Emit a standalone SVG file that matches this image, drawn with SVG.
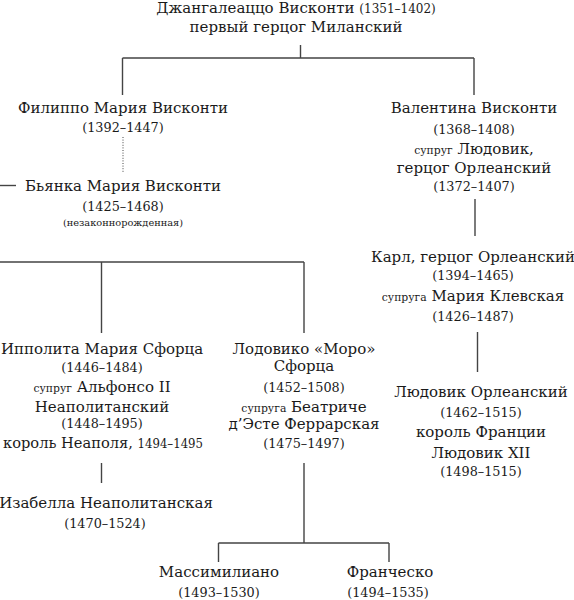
<svg xmlns="http://www.w3.org/2000/svg" width="574" height="600" viewBox="0 0 574 600">
<style>
text{font-family:"DejaVu Serif","Liberation Serif",serif;fill:#1a1a1a;text-anchor:middle}
.n{font-size:15px}
.y{font-size:12.8px}
.yi{font-size:12px}
.s{font-size:10.8px}
.u{font-size:9.8px}
.c path{stroke:#444;stroke-width:1.4;fill:none}
</style>
<rect width="574" height="600" fill="#fff"/>
<g class="c" id="connectors">
<path d="M300.5,45V58M122.5,58H474M122.5,58V95M474,58V95"/>
<path d="M123,137V173" stroke-dasharray="1,1.6" style="stroke-width:1"/>
<path d="M0,185.5H16"/>
<path d="M0,262H304M101.5,262V333M304,262V333"/>
<path d="M475,199V236"/>
<path d="M477.5,332V372"/>
<path d="M101.5,463V483"/>
<path d="M304,463V543M218.5,543H389M218.5,543V562M389,543V562"/>
</g>
<g id="root">
<text x="296" y="13" class="n">Джангалеаццо Висконти <tspan class="yi">(1351–1402)</tspan></text>
<text x="296" y="32" class="n">первый герцог Миланский</text>
</g>
<g id="filippo">
<text x="123" y="113" class="n">Филиппо Мария Висконти</text>
<text x="123" y="132" class="y">(1392–1447)</text>
</g>
<g id="bianca">
<text x="123" y="191" class="n">Бьянка Мария Висконти</text>
<text x="123" y="211" class="y">(1425–1468)</text>
<text x="123" y="226" class="u">(незаконнорожденная)</text>
</g>
<g id="valentina">
<text x="474" y="113" class="n">Валентина Висконти</text>
<text x="474" y="134" class="y">(1368–1408)</text>
<text x="474" y="154" class="n"><tspan class="s">супруг</tspan> Людовик,</text>
<text x="474" y="173" class="n">герцог Орлеанский</text>
<text x="474" y="191" class="y">(1372–1407)</text>
</g>
<g id="karl">
<text x="473" y="262" class="n">Карл, герцог Орлеанский</text>
<text x="473" y="280" class="y">(1394–1465)</text>
<text x="473" y="301" class="n"><tspan class="s">супруга</tspan> Мария Клевская</text>
<text x="473" y="321" class="y">(1426–1487)</text>
</g>
<g id="ippolita">
<text x="102" y="354" class="n">Ипполита Мария Сфорца</text>
<text x="102" y="372" class="y">(1446–1484)</text>
<text x="102" y="392" class="n"><tspan class="s">супруг</tspan> Альфонсо II</text>
<text x="102" y="412" class="n">Неаполитанский</text>
<text x="102" y="428" class="y">(1448–1495)</text>
<text x="103" y="448" class="n" textLength="200" lengthAdjust="spacingAndGlyphs">король Неаполя, <tspan class="yi">1494–1495</tspan></text>
</g>
<g id="lodovico">
<text x="304" y="354" class="n">Лодовико «Моро»</text>
<text x="304" y="371" class="n">Сфорца</text>
<text x="304" y="392" class="y">(1452–1508)</text>
<text x="304" y="412" class="n"><tspan class="s">супруга</tspan> Беатриче</text>
<text x="304" y="429" class="n">д’Эсте Феррарская</text>
<text x="304" y="448" class="y">(1475–1497)</text>
</g>
<g id="ludovik">
<text x="481" y="397" class="n">Людовик Орлеанский</text>
<text x="481" y="417" class="y">(1462–1515)</text>
<text x="481" y="437" class="n">король Франции</text>
<text x="481" y="458" class="n">Людовик XII</text>
<text x="481" y="476" class="y">(1498–1515)</text>
</g>
<g id="isabella">
<text x="106" y="508" class="n">Изабелла Неаполитанская</text>
<text x="105" y="528" class="y">(1470–1524)</text>
</g>
<g id="massimiliano">
<text x="219" y="577" class="n">Массимилиано</text>
<text x="219" y="597" class="y">(1493–1530)</text>
</g>
<g id="francesco">
<text x="390" y="577" class="n">Франческо</text>
<text x="388" y="597" class="y">(1494–1535)</text>
</g>
</svg>
